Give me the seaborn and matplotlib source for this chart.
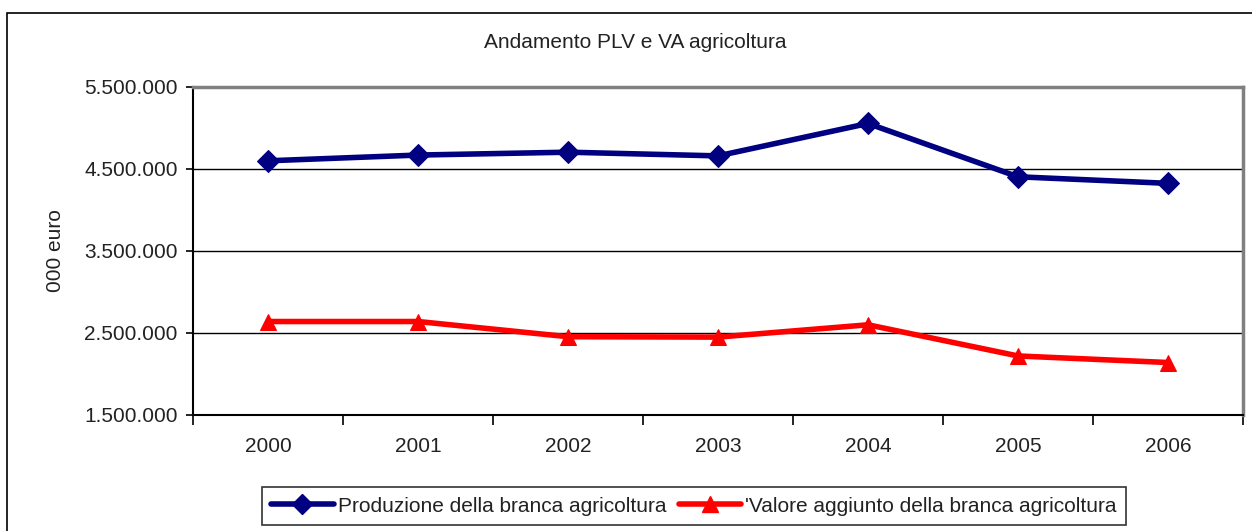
import matplotlib
matplotlib.use("Agg")
import matplotlib.pyplot as plt
import seaborn as sns
import pandas as pd
import numpy as np
from matplotlib.patches import Rectangle
from matplotlib.lines import Line2D

years = ["2000", "2001", "2002", "2003", "2004", "2005", "2006"]
produzione = [4600000, 4670000, 4705000, 4660000, 5055000, 4405000, 4325000]
valore_aggiunto = [2640000, 2640000, 2455000, 2450000, 2600000, 2220000, 2140000]
label_prod = "Produzione della branca agricoltura"
label_va = "'Valore aggiunto della branca agricoltura"
y_ticks = [1500000, 2500000, 3500000, 4500000, 5500000]
y_tick_labels = ["1.500.000", "2.500.000", "3.500.000", "4.500.000", "5.500.000"]

sns.set_theme(style="white")
plt.rcParams['font.family'] = ['Liberation Sans', 'DejaVu Sans']

FS = 15
TXT = "#222222"

fig = plt.figure(figsize=(12.52, 5.31), dpi=100)
fig.patch.set_facecolor("white")
# outer chart border
fig.add_artist(Rectangle((7 / 1252, -0.05), 1.2, (531 - 13) / 531 + 0.05,
                         transform=fig.transFigure, fill=False,
                         edgecolor="black", linewidth=1.2))

ax = fig.add_axes([193 / 1252, 1 - 415 / 531, (1243 - 193) / 1252, (415 - 87) / 531])
ax.set_facecolor("white")

df = pd.DataFrame({"pos": np.arange(len(years)), "prod": produzione, "va": valore_aggiunto})
blue = "#000080"
red = "#ff0000"
sns.lineplot(data=df, x="pos", y="prod", ax=ax, color=blue, linewidth=4, marker="D",
             markersize=11, markeredgecolor=blue, markerfacecolor=blue, zorder=3)
sns.lineplot(data=df, x="pos", y="va", ax=ax, color=red, linewidth=4, marker="^",
             markersize=12, markeredgecolor=red, markerfacecolor=red, zorder=3)

ax.set_xlim(-0.5, len(years) - 0.5)
ax.set_ylim(1500000, 5500000)
ax.set_yticks(y_ticks)
ax.set_yticklabels(y_tick_labels)
ax.set_xticks(np.arange(-0.5, len(years), 1.0))
ax.set_xticklabels([])
ax.set_xticks(np.arange(len(years)), minor=True)
ax.set_xticklabels(years, minor=True)
ax.tick_params(axis="x", which="major", length=7, width=1.2, color="black", direction="out", bottom=True)
ax.tick_params(axis="x", which="minor", length=0, pad=16, labelsize=FS, labelcolor=TXT)
ax.tick_params(axis="y", length=5, width=1.2, color="black", direction="out", left=True,
               labelsize=FS, labelcolor=TXT, pad=6)

ax.yaxis.grid(True, color="black", linewidth=1.0)
ax.set_axisbelow(True)
for s in ["left", "bottom"]:
    ax.spines[s].set_color("black")
    ax.spines[s].set_linewidth(1.5)
for s in ["top", "right"]:
    ax.spines[s].set_color("#808080")
    ax.spines[s].set_linewidth(2.5)

ax.set_xlabel("")
ax.set_ylabel("000 euro", fontsize=FS, color=TXT, labelpad=14)

fig.text(635 / 1252, 1 - 43 / 531, "Andamento PLV e VA agricoltura", ha="center", va="center",
         fontsize=FS, color=TXT)

handles = [Line2D([], [], color=blue, linewidth=4, marker="D", markersize=10),
           Line2D([], [], color=red, linewidth=4, marker="^", markersize=11)]
leg = fig.legend(handles, [label_prod, label_va], loc="center", ncol=2,
                 bbox_to_anchor=(694 / 1252, 1 - 506 / 531), frameon=True, fancybox=False,
                 edgecolor="black", fontsize=FS, handlelength=3.0, handletextpad=0.2,
                 columnspacing=0.6, borderpad=0.45, borderaxespad=0, labelcolor=TXT)
leg.get_frame().set_linewidth(1.2)

fig.savefig("out.png", dpi=100, facecolor="white")
